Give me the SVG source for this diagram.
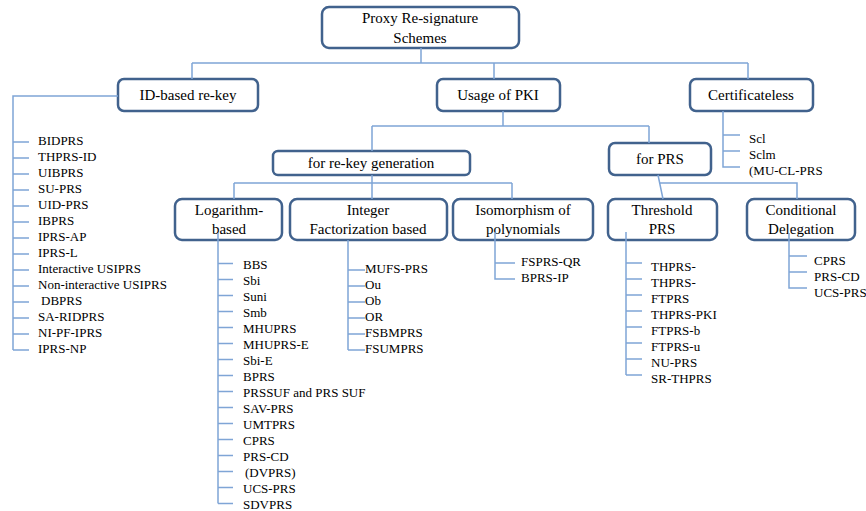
<svg xmlns="http://www.w3.org/2000/svg" width="866" height="511" viewBox="0 0 866 511" font-family="Liberation Serif">
<rect width="866" height="511" fill="#fff"/>
<g id="nodes" fill="#fff" stroke="#41628d" stroke-width="2.5">
<rect id="root" x="322" y="7" width="197" height="41" rx="7"/>
<rect id="idbased" x="118" y="79" width="140" height="32" rx="6"/>
<rect id="pki" x="437" y="79" width="123" height="32" rx="6"/>
<rect id="certless" x="690" y="79" width="123" height="32" rx="6"/>
<rect id="rekeygen" x="273" y="151" width="197" height="24" rx="5"/>
<rect id="forprs" x="609" y="143" width="102" height="32" rx="6"/>
<rect id="log" x="175" y="199" width="107" height="41" rx="7"/>
<rect id="intfact" x="290" y="199" width="157" height="41" rx="7"/>
<rect id="iso" x="453" y="199" width="140" height="41" rx="7"/>
<rect id="thr" x="608" y="199" width="109" height="41" rx="7"/>
<rect id="cond" x="747" y="199" width="108" height="41" rx="7"/>
</g>
<g id="node-labels" font-size="15" fill="#000" text-anchor="middle">
<text font-family="Liberation Serif" x="420" y="23">Proxy Re-signature</text><text font-family="Liberation Serif" x="420" y="43">Schemes</text>
<text font-family="Liberation Serif" x="188" y="100">ID-based re-key</text>
<text font-family="Liberation Serif" x="498" y="100">Usage of PKI</text>
<text font-family="Liberation Serif" x="751" y="100">Certificateless</text>
<text font-family="Liberation Serif" x="371" y="168">for re-key generation</text>
<text font-family="Liberation Serif" x="660" y="164">for PRS</text>
<text font-family="Liberation Serif" x="229" y="215">Logarithm-</text><text font-family="Liberation Serif" x="229" y="234">based</text>
<text font-family="Liberation Serif" x="368" y="215">Integer</text><text font-family="Liberation Serif" x="368" y="234">Factorization based</text>
<text font-family="Liberation Serif" x="523" y="215">Isomorphism of</text><text font-family="Liberation Serif" x="523" y="234">polynomials</text>
<text font-family="Liberation Serif" x="662" y="215">Threshold</text><text font-family="Liberation Serif" x="662" y="234">PRS</text>
<text font-family="Liberation Serif" x="801" y="215">Conditional</text><text font-family="Liberation Serif" x="801" y="234">Delegation</text>
</g>
<g id="connectors" fill="none" stroke="#7fa5d6" stroke-width="1.5">
<path d="M421 48V63M192 63H748M192 63V79M494 63V79M748 63V79"/>
<path d="M118 96H13V350M13 142H29M13 158H29M13 174H29M13 190H29M13 206H29M13 222H29M13 238H29M13 254H29M13 270H29M13 286H29M13 302H29M13 318H29M13 334H29M13 350H29"/>
<path d="M723 111V167H740M723 135H740M723 151H740"/>
<path d="M503 111V126M372 126H649M372 126V151M649 126V143"/>
<path d="M372 175V199M234 183H512M234 183V199M512 183V199"/>
<path d="M658 175L663 199M659 183H797V199"/>
<path d="M218 233V503.5M218 263.5H233M218 279.5H233M218 295.5H233M218 311.5H233M218 327.5H233M218 343.5H233M218 359.5H233M218 375.5H233M218 391.5H233M218 407.5H233M218 423.5H233M218 439.5H233M218 455.5H233M218 471.5H233M218 487.5H233M218 503.5H233"/>
<path d="M348 240V350M348 270H365M348 286H365M348 302H365M348 318H365M348 334H365M348 350H365"/>
<path d="M495 232V279H515M495 263H515"/>
<path d="M626 232V375M626 263H642M626 279H642M626 295H642M626 311H642M626 327H642M626 343H642M626 359H642M626 375H642"/>
<path d="M789 233V288H807M789 256H807M789 272H807"/>
</g>
<g id="items" font-size="13" fill="#000">
<text font-family="Liberation Serif" x="38" y="145">BIDPRS</text><text font-family="Liberation Serif" x="38" y="161">THPRS-ID</text><text font-family="Liberation Serif" x="38" y="177">UIBPRS</text><text font-family="Liberation Serif" x="38" y="193">SU-PRS</text><text font-family="Liberation Serif" x="38" y="209">UID-PRS</text><text font-family="Liberation Serif" x="38" y="225">IBPRS</text><text font-family="Liberation Serif" x="38" y="241">IPRS-AP</text><text font-family="Liberation Serif" x="38" y="257">IPRS-L</text><text font-family="Liberation Serif" x="38" y="273">Interactive USIPRS</text><text font-family="Liberation Serif" x="38" y="289">Non-interactive USIPRS</text><text font-family="Liberation Serif" x="41" y="305">DBPRS</text><text font-family="Liberation Serif" x="38" y="321">SA-RIDPRS</text><text font-family="Liberation Serif" x="38" y="337">NI-PF-IPRS</text><text font-family="Liberation Serif" x="38" y="353">IPRS-NP</text>
<text font-family="Liberation Serif" x="749" y="143">Scl</text><text font-family="Liberation Serif" x="749" y="159">Sclm</text><text font-family="Liberation Serif" x="749" y="175">(MU-CL-PRS</text>
<text font-family="Liberation Serif" x="243" y="269">BBS</text><text font-family="Liberation Serif" x="243" y="285">Sbi</text><text font-family="Liberation Serif" x="243" y="301">Suni</text><text font-family="Liberation Serif" x="243" y="317">Smb</text><text font-family="Liberation Serif" x="243" y="333">MHUPRS</text><text font-family="Liberation Serif" x="243" y="349">MHUPRS-E</text><text font-family="Liberation Serif" x="243" y="365">Sbi-E</text><text font-family="Liberation Serif" x="243" y="381">BPRS</text><text font-family="Liberation Serif" x="243" y="397">PRSSUF and PRS SUF</text><text font-family="Liberation Serif" x="243" y="413">SAV-PRS</text><text font-family="Liberation Serif" x="243" y="429">UMTPRS</text><text font-family="Liberation Serif" x="243" y="445">CPRS</text><text font-family="Liberation Serif" x="243" y="461">PRS-CD</text><text font-family="Liberation Serif" x="245" y="477">(DVPRS)</text><text font-family="Liberation Serif" x="243" y="493">UCS-PRS</text><text font-family="Liberation Serif" x="243" y="509">SDVPRS</text>
<text font-family="Liberation Serif" x="365" y="273">MUFS-PRS</text><text font-family="Liberation Serif" x="365" y="289">Ou</text><text font-family="Liberation Serif" x="365" y="305">Ob</text><text font-family="Liberation Serif" x="365" y="321">OR</text><text font-family="Liberation Serif" x="365" y="337">FSBMPRS</text><text font-family="Liberation Serif" x="365" y="353">FSUMPRS</text>
<text font-family="Liberation Serif" x="521" y="266">FSPRS-QR</text><text font-family="Liberation Serif" x="521" y="282">BPRS-IP</text>
<text font-family="Liberation Serif" x="651" y="271">THPRS-</text><text font-family="Liberation Serif" x="651" y="287">THPRS-</text><text font-family="Liberation Serif" x="651" y="303">FTPRS</text><text font-family="Liberation Serif" x="651" y="319">THPRS-PKI</text><text font-family="Liberation Serif" x="651" y="335">FTPRS-b</text><text font-family="Liberation Serif" x="651" y="351">FTPRS-u</text><text font-family="Liberation Serif" x="651" y="367">NU-PRS</text><text font-family="Liberation Serif" x="651" y="383">SR-THPRS</text>
<text font-family="Liberation Serif" x="814" y="265">CPRS</text><text font-family="Liberation Serif" x="814" y="281">PRS-CD</text><text font-family="Liberation Serif" x="814" y="297">UCS-PRS</text>
</g>
</svg>
